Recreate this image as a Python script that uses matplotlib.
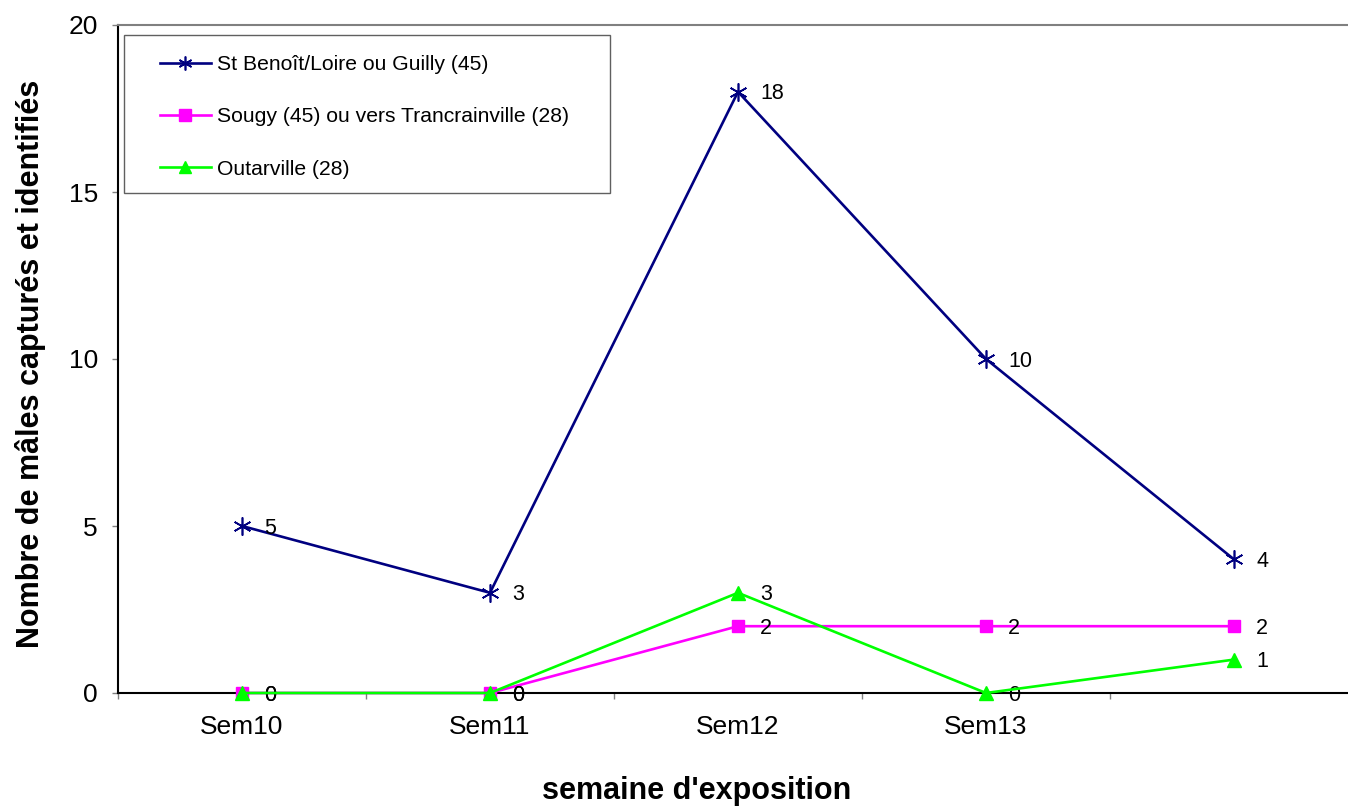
import numpy as np
import matplotlib.pyplot as plt
from matplotlib.lines import Line2D
from matplotlib.patches import Rectangle

plt.rcParams['font.family'] = ['Liberation Sans', 'DejaVu Sans']

# Data
semaines = ["Sem10", "Sem11", "Sem12", "Sem13", ""]
st_benoit = [5, 3, 18, 10, 4]
sougy = [0, 0, 2, 2, 2]
outarville = [0, 0, 3, 0, 1]

series_names = ["St Benoît/Loire ou Guilly (45)",
                "Sougy (45) ou vers Trancrainville (28)",
                "Outarville (28)"]

W, H = 1348, 807
fig = plt.figure(figsize=(W / 100, H / 100), dpi=100)
ax = fig.add_axes([118 / W, (H - 693) / H, 1240 / W, 668 / H])

x = np.arange(len(semaines))
star = (6, 2, 0)

ax.plot(x, st_benoit, color="#000080", lw=1.9, marker=star, ms=13, mew=1.2, clip_on=False, zorder=3)
ax.plot(x, sougy, color="#FF00FF", lw=1.9, marker="s", ms=9, clip_on=False, zorder=3)
ax.plot(x, outarville, color="#00FF00", lw=1.9, marker="^", ms=9.5, clip_on=False, zorder=4)

# data labels to the right of each point
for serie in (st_benoit, sougy, outarville):
    for i, v in enumerate(serie):
        ax.annotate(str(v), (i, v), xytext=(16, -1.5), textcoords="offset points",
                    va="center", ha="left", fontsize=15.5)

ax.set_xlim(-0.5, len(semaines) - 0.5)
ax.set_ylim(0, 20)
ax.set_yticks([0, 5, 10, 15, 20])
ax.set_xticks(x[:4])
ax.set_xticklabels(semaines[:4])
ax.set_xticks(np.arange(-0.5, len(semaines)), minor=True)

ax.tick_params(axis="y", direction="out", length=4.5, width=1, color="#808080",
               labelsize=19, pad=10)
ax.tick_params(axis="x", which="major", length=0, labelsize=19, pad=16)
ax.tick_params(axis="x", which="minor", direction="out", length=4.5, width=1, color="#808080")

ax.spines["right"].set_visible(False)
ax.spines["top"].set_color("#808080")
ax.spines["top"].set_linewidth(1.5)
ax.spines["left"].set_linewidth(1.5)
ax.spines["bottom"].set_linewidth(1.5)

fig.text(31 / W, 1 - 364 / H, "Nombre de mâles capturés et identifiés", rotation=90,
         ha="center", va="center", fontsize=22, fontweight="bold")
fig.text(697 / W, 1 - 791 / H, "semaine d'exposition",
         ha="center", va="center", fontsize=22, fontweight="bold")

# legend
handles = [
    Line2D([], [], color="#000080", lw=1.9, marker=star, ms=10, mew=1.2),
    Line2D([], [], color="#FF00FF", lw=1.9, marker="s", ms=9),
    Line2D([], [], color="#00FF00", lw=1.9, marker="^", ms=9),
]
ax.legend(handles, series_names, loc="upper left", bbox_to_anchor=(160 / W, 1 - 55 / H),
          bbox_transform=fig.transFigure, frameon=False, fontsize=15.2, borderpad=0,
          handlelength=2.4, handletextpad=0.3, labelspacing=1.58, borderaxespad=0)
fig.add_artist(Rectangle((124 / W, 1 - 193 / H), 486 / W, 158 / H, transform=fig.transFigure,
                         fill=False, edgecolor="#606060", lw=1))

fig.savefig("out.png", dpi=100)
